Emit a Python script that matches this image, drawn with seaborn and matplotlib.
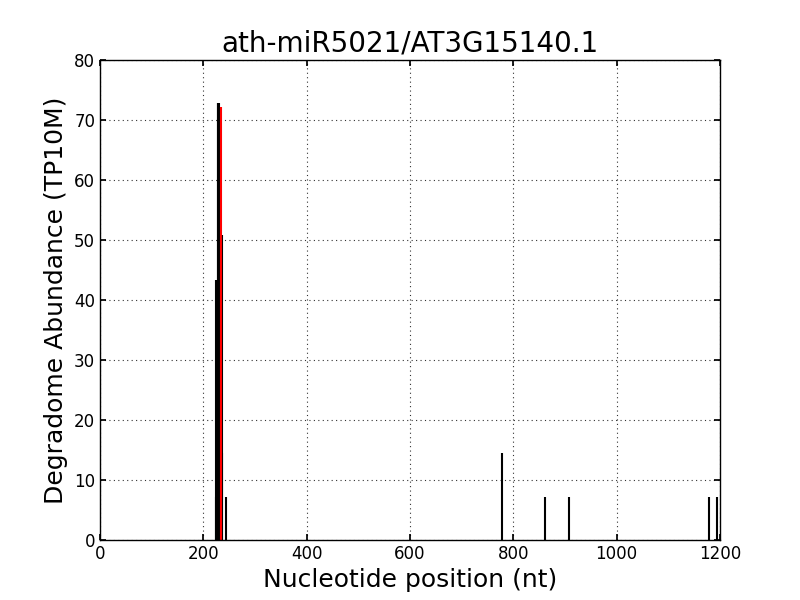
import matplotlib
matplotlib.use("Agg")
import matplotlib.pyplot as plt
import seaborn as sns

# degradome reads (TP10M) by nucleotide position
positions = [224, 225, 226, 228, 229, 231, 236, 237, 243, 779, 862, 907, 1179, 1195]
abundance = [7.22, 43.3, 43.3, 72.9, 72.9, 72.9, 50.8, 14.44, 7.22, 14.44, 7.22, 7.22, 7.22, 7.22]

# predicted cleavage site
site_pos = [233.5]
site_val = [72.2]

title = "ath-miR5021/AT3G15140.1"

sns.set_theme(style="white", rc={
    "axes.edgecolor": "black",
    "axes.linewidth": 1.0,
    "axes.grid": True,
    "grid.color": "#333333",
    "grid.linestyle": (0, (1, 3)),
    "grid.linewidth": 0.8,
    "xtick.direction": "in",
    "ytick.direction": "in",
    "xtick.top": True,
    "ytick.right": True,
    "xtick.bottom": True,
    "ytick.left": True,
    "xtick.major.size": 4,
    "ytick.major.size": 4,
    "xtick.color": "black",
    "ytick.color": "black",
    "text.color": "black",
    "axes.labelcolor": "black",
})
plt.rcParams["font.family"] = ["DejaVu Sans"]

fig, ax = plt.subplots(figsize=(8, 6), dpi=100)
ax.vlines(positions, 0, abundance, colors="black", linewidth=1.5)
ax.vlines(site_pos, 0, site_val, colors="red", linewidth=1.5)

ax.set_xlim(0, 1200)
ax.set_ylim(0, 80)
ax.set_xticks(range(0, 1201, 200))
ax.set_yticks(range(0, 81, 10))
ax.tick_params(labelsize=12)
ax.set_title(title, fontsize=20)
ax.set_xlabel("Nucleotide position (nt)", fontsize=18)
ax.set_ylabel("Degradome Abundance (TP10M)", fontsize=18)

fig.subplots_adjust(left=0.125, right=0.9, bottom=0.1, top=0.9)
fig.savefig("out.png", dpi=100)
